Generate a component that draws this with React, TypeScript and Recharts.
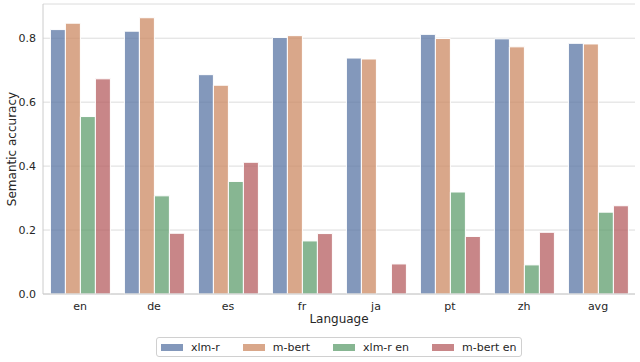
import React from 'react';
import { BarChart, Bar, XAxis, YAxis, CartesianGrid } from 'recharts';

const languages = ['en', 'de', 'es', 'fr', 'ja', 'pt', 'zh', 'avg'];
const xlmR = [0.827, 0.822, 0.686, 0.802, 0.738, 0.812, 0.798, 0.784];
const mBert = [0.847, 0.864, 0.653, 0.808, 0.735, 0.799, 0.773, 0.782];
const xlmREn = [0.555, 0.307, 0.352, 0.166, null, 0.319, 0.091, 0.256];
const mBertEn = [0.673, 0.19, 0.412, 0.189, 0.094, 0.18, 0.193, 0.276];
const yTicks = [0, 0.2, 0.4, 0.6, 0.8];

const series = [
  { key: 'xlmR', name: 'xlm-r', color: '#5975a4' },
  { key: 'mBert', name: 'm-bert', color: '#cc8963' },
  { key: 'xlmREn', name: 'xlm-r en', color: '#5f9e6e' },
  { key: 'mBertEn', name: 'm-bert en', color: '#b55d60' },
];

const data = languages.map((lang, i) => ({
  lang,
  xlmR: xlmR[i],
  mBert: mBert[i],
  xlmREn: xlmREn[i],
  mBertEn: mBertEn[i],
}));

const FONT = '"DejaVu Sans", sans-serif';
const TEXT = '#262626';

const App: React.FC = () => {
  return (
    <div style={{ position: 'absolute', left: 0, top: 0, width: 640, height: 362, fontFamily: FONT, background: '#fff' }}>
      <BarChart
        width={640}
        height={362}
        data={data}
        margin={{ top: 4, right: 5, bottom: 38, left: 0 }}
        barCategoryGap="10%"
        barGap={0}
      >
        <CartesianGrid vertical={false} stroke="#dcdcdc" />
        <XAxis
          dataKey="lang"
          height={30}
          stroke="#cccccc"
          tickLine={false}
          tickSize={0}
          tickMargin={8}
          tick={{ fill: TEXT, fontSize: 11, fontFamily: FONT }}
          label={{ value: 'Language', position: 'insideBottom', offset: 1, fill: TEXT, fontSize: 12, fontFamily: FONT }}
        />
        <YAxis
          width={43}
          domain={[0, 0.907]}
          ticks={yTicks}
          tickFormatter={(v: number) => v.toFixed(1)}
          stroke="#cccccc"
          tickLine={false}
          tickSize={0}
          tickMargin={7}
          tick={{ fill: TEXT, fontSize: 11, fontFamily: FONT }}
          label={{ value: 'Semantic accuracy', angle: -90, position: 'insideLeft', offset: 12, fill: TEXT, fontSize: 12, fontFamily: FONT, style: { textAnchor: 'middle' } }}
        />
        {series.map((s) => (
          <Bar
            key={s.key}
            dataKey={s.key}
            name={s.name}
            fill={s.color}
            fillOpacity={0.75}
            stroke="#ffffff"
            strokeWidth={1}
            isAnimationActive={false}
          />
        ))}
      </BarChart>
      <div
        style={{
          position: 'absolute',
          left: 156,
          top: 337,
          width: 366,
          height: 20,
          border: '1px solid #d0d0d0',
          borderRadius: 3,
          display: 'flex',
          alignItems: 'center',
          paddingLeft: 4,
          fontSize: 11,
          color: TEXT,
          boxSizing: 'border-box',
          whiteSpace: 'nowrap',
        }}
      >
        {series.map((s, i) => (
          <div key={s.key} style={{ display: 'flex', alignItems: 'center', marginRight: i < series.length - 1 ? 23 : 0, flexShrink: 0 }}>
            <span style={{ display: 'inline-block', width: 22, height: 7, background: s.color, opacity: 0.75, marginRight: 8 }} />
            <span>{s.name}</span>
          </div>
        ))}
      </div>
    </div>
  );
};

export default App;
